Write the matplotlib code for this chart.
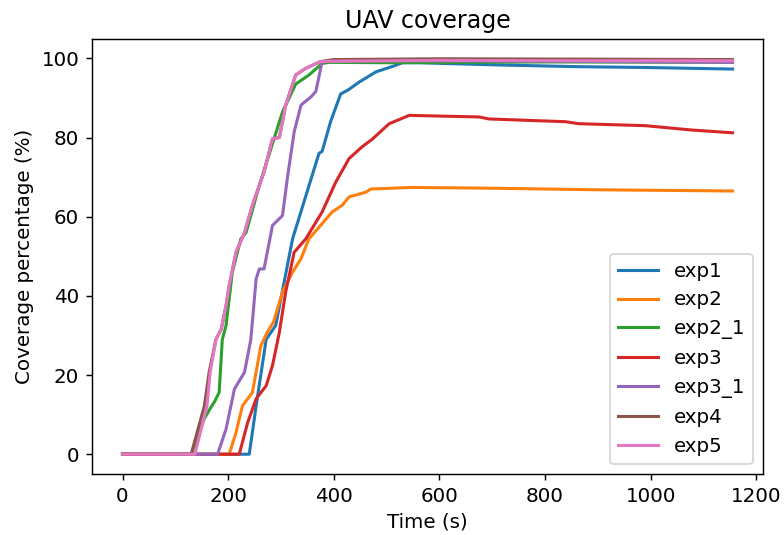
import matplotlib
matplotlib.use('Agg')
import matplotlib.pyplot as plt

# coverage curves (time in s, coverage in %)
t_exp1 = [0, 240, 253, 272, 290, 322, 372, 378, 394, 413, 427, 448, 480, 512, 530, 561, 612, 725, 864, 990, 1155]
v_exp1 = [0, 0, 12.2, 29, 32.5, 54.4, 76, 76.5, 84, 91, 92, 94, 96.6, 98, 98.9, 98.9, 98.7, 98.3, 97.9, 97.7, 97.3]

t_exp2 = [0, 202, 215, 227, 246, 262, 274, 286, 303, 322, 338, 353, 375, 397, 416, 429, 461, 470, 549, 700, 900, 1155]
v_exp2 = [0, 0, 5.5, 12.2, 15.6, 27.4, 30.8, 33.4, 41, 46, 49.4, 54.4, 57.8, 61.2, 62.9, 65, 66.2, 67, 67.4, 67.2, 66.8, 66.5]

t_exp2_1 = [0, 130, 155, 168, 174, 183, 189, 196, 208, 224, 234, 259, 287, 303, 328, 353, 378, 391, 500, 800, 1155]
v_exp2_1 = [0, 0, 9, 12, 13.2, 15.6, 29, 32.5, 46, 54.4, 56, 67.9, 79.7, 86.5, 93.5, 95.8, 98.7, 99, 98.9, 99.1, 99.0]

t_exp3 = [0, 221, 237, 253, 272, 284, 297, 309, 325, 347, 378, 404, 429, 454, 473, 505, 543, 675, 694, 839, 864, 990, 1078, 1155]
v_exp3 = [0, 0, 8, 14, 17.3, 22.4, 30.8, 41, 51, 54.4, 61.2, 68.8, 74.7, 77.7, 79.6, 83.5, 85.6, 85.2, 84.7, 84, 83.5, 83, 81.9, 81.2]

t_exp3_1 = [0, 180, 196, 212, 231, 243, 253, 259, 268, 284, 303, 312, 325, 338, 357, 366, 378, 500, 800, 1155]
v_exp3_1 = [0, 0, 6.3, 16.5, 20.7, 29, 44.3, 46.8, 46.8, 57.8, 60.3, 69.6, 81.4, 88.2, 90.3, 91.6, 99.2, 99.4, 99.3, 99.0]

t_exp4 = [0, 130, 155, 164, 177, 187, 196, 202, 215, 231, 246, 259, 268, 284, 297, 309, 328, 347, 375, 400, 600, 900, 1155]
v_exp4 = [0, 0, 12.2, 20.7, 29, 31.6, 37.5, 42.6, 51, 56, 62.9, 67.9, 71.3, 79.7, 80, 88.2, 95.8, 97.5, 99.2, 99.7, 99.9, 99.8, 99.7]

t_exp5 = [0, 137, 160, 166, 177, 187, 196, 202, 215, 231, 246, 259, 268, 284, 297, 309, 328, 347, 375, 400, 600, 900, 1155]
v_exp5 = [0, 0, 12.2, 20.7, 29, 31.6, 37.5, 42.6, 51, 56, 62.9, 67.9, 71.3, 79.7, 80, 88.2, 95.8, 97.5, 99.2, 99.3, 99.5, 99.4, 99.4]

series = [
    ('exp1', t_exp1, v_exp1),
    ('exp2', t_exp2, v_exp2),
    ('exp2_1', t_exp2_1, v_exp2_1),
    ('exp3', t_exp3, v_exp3),
    ('exp3_1', t_exp3_1, v_exp3_1),
    ('exp4', t_exp4, v_exp4),
    ('exp5', t_exp5, v_exp5),
]

plt.rcParams['font.size'] = 11

fig = plt.figure(figsize=(784/130, 535/130), dpi=130)
ax = fig.add_axes([92/784, 61/535, 671/784, 435/535])
for name, t, v in series:
    ax.plot(t, v, label=name, linewidth=1.7)

ax.set_title('UAV coverage')
ax.set_xlabel('Time (s)')
ax.set_ylabel('Coverage percentage (%)')
ax.legend(loc='lower right')
fig.savefig('out.png', dpi=130)
